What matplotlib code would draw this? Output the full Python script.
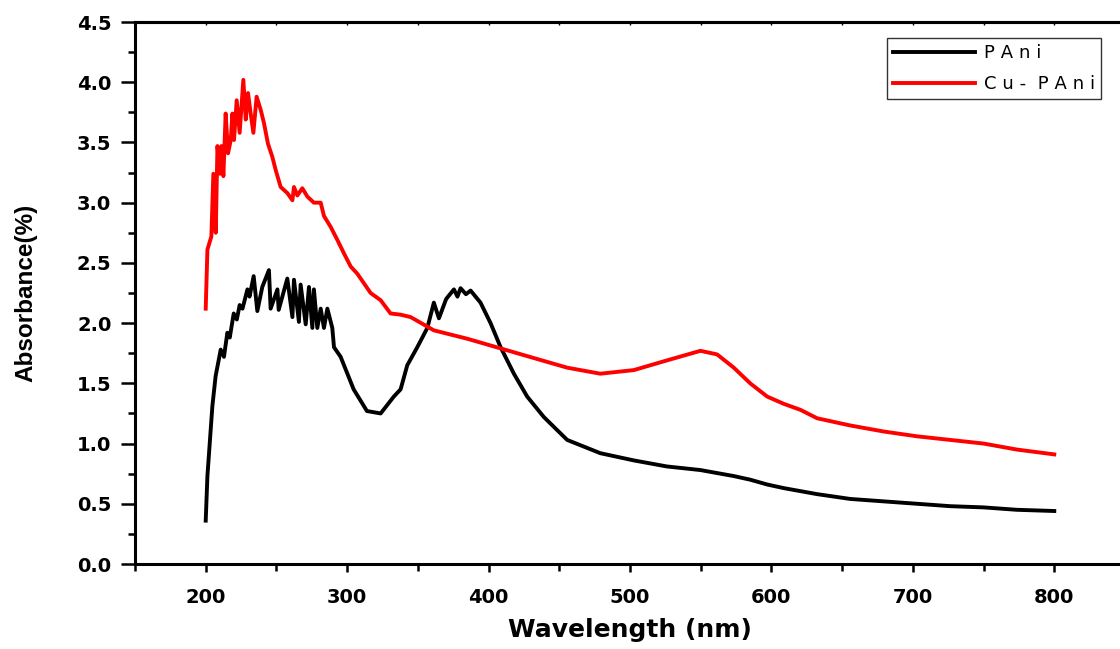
import matplotlib
matplotlib.use("Agg")
import matplotlib.pyplot as plt
from matplotlib.ticker import MultipleLocator

plt.rcParams['font.family'] = ['Liberation Sans', 'DejaVu Sans']

# PAni absorbance
pani_wl = [200, 201.2, 204.7, 207, 210.6, 212.9, 215.3, 217, 219.8, 222,
           224, 226, 229.5, 231, 233.9, 236.5, 240, 244.7, 245.9, 250.7,
           251.6, 257.7, 261.3, 262.4, 265.9, 267.1, 270.7, 273, 275.4, 276.5,
           278.9, 281.3, 283.6, 286, 289.5, 290.7, 295.4, 304.6, 314, 323.7,
           333, 337.8, 342.5, 349.6, 356.7, 361.3, 364.9, 370, 375.5, 378,
           380.2, 384, 387.3, 394.3, 401.4, 408.5, 417.9, 427.3, 439.1, 455.6,
           479, 502.7, 526, 549.8, 573.4, 585, 597, 608.7, 632.3, 655.8,
           679.4, 703, 726.5, 750, 773.6, 800]
pani_abs = [0.36, 0.73, 1.31, 1.56, 1.78, 1.72, 1.92, 1.88, 2.08, 2.03,
            2.15, 2.12, 2.28, 2.22, 2.39, 2.10, 2.30, 2.44, 2.12, 2.28,
            2.11, 2.37, 2.05, 2.36, 2.01, 2.32, 1.99, 2.30, 1.96, 2.28,
            1.96, 2.12, 1.96, 2.12, 1.96, 1.80, 1.72, 1.45, 1.27, 1.25,
            1.39, 1.45, 1.65, 1.80, 1.96, 2.17, 2.04, 2.20, 2.28, 2.22,
            2.29, 2.24, 2.27, 2.17, 2.00, 1.80, 1.58, 1.39, 1.22, 1.03,
            0.92, 0.86, 0.81, 0.78, 0.73, 0.70, 0.66, 0.63, 0.58, 0.54,
            0.52, 0.50, 0.48, 0.47, 0.45, 0.44]

# Cu-PAni absorbance
cu_wl = [200, 201.2, 204, 205.4, 207.1, 208.3, 210.1, 211.1, 212.5, 214.1,
         215.8, 217.7, 218.9, 220, 221.9, 224, 226.6, 228.3, 229.9, 231.8,
         233.7, 236, 238.9, 241.2, 244, 247.1, 249.5, 253, 257.7, 261.3,
         262.4, 264.8, 268.3, 271.9, 276.5, 281.3, 283.6, 288.3, 293.1, 297.7,
         302.5, 307.2, 311.9, 316.6, 323.7, 330.7, 337.8, 344.9, 361.3, 385,
         408.5, 432, 455.6, 479, 502.7, 526, 549.8, 561.6, 573.4, 585,
         597, 608.7, 620.5, 632.3, 655.8, 679.4, 703, 726.5, 750, 773.6,
         800]
cu_abs = [2.12, 2.61, 2.72, 3.24, 2.75, 3.47, 3.24, 3.47, 3.22, 3.74,
          3.41, 3.52, 3.74, 3.52, 3.85, 3.58, 4.02, 3.69, 3.91, 3.74,
          3.58, 3.88, 3.77, 3.66, 3.49, 3.38, 3.27, 3.13, 3.08, 3.02,
          3.13, 3.06, 3.12, 3.05, 3.00, 3.00, 2.89, 2.80, 2.69, 2.58,
          2.47, 2.41, 2.33, 2.25, 2.19, 2.08, 2.07, 2.05, 1.94, 1.87,
          1.79, 1.71, 1.63, 1.58, 1.61, 1.69, 1.77, 1.74, 1.63, 1.50,
          1.39, 1.33, 1.28, 1.21, 1.15, 1.10, 1.06, 1.03, 1.00, 0.95,
          0.91]

labels = ['PAni', 'Cu- PAni']
gap = '\u2004'

fig = plt.figure(figsize=(11.2, 6.49), dpi=100)
ax = fig.add_axes([135 / 1120, 1 - 564 / 649, 990 / 1120, 542 / 649])

ax.plot(pani_wl, pani_abs, color='black', lw=2.8, label=gap.join(labels[0]))
ax.plot(cu_wl, cu_abs, color='red', lw=2.8,
        label=gap.join(labels[1].replace(' ', '')).replace('-', '- '))

ax.set_xlim(150, 850)
ax.set_ylim(0, 4.5)
ax.xaxis.set_major_locator(MultipleLocator(100))
ax.xaxis.set_minor_locator(MultipleLocator(50))
ax.yaxis.set_major_locator(MultipleLocator(0.5))
ax.yaxis.set_minor_locator(MultipleLocator(0.25))
ax.yaxis.set_major_formatter(plt.FormatStrFormatter('%.1f'))

for s in ax.spines.values():
    s.set_linewidth(2.2)

ax.tick_params(axis='y', which='major', direction='out', length=10, width=1.8, pad=7)
ax.tick_params(axis='y', which='minor', direction='out', length=5, width=1.8)
ax.tick_params(axis='x', which='major', direction='out', length=6, width=1.8, pad=11)
ax.tick_params(axis='x', which='minor', direction='out', length=5, width=1.8)
for lbl in ax.get_xticklabels() + ax.get_yticklabels():
    lbl.set_fontfamily('DejaVu Sans')
    lbl.set_fontweight('bold')
    lbl.set_fontsize(14)

# small inward ticks on the top frame
top = ax.secondary_xaxis('top')
top.xaxis.set_major_locator(MultipleLocator(100))
top.xaxis.set_minor_locator(MultipleLocator(50))
top.tick_params(which='both', direction='in', length=2, width=1, labeltop=False)
top.spines['top'].set_linewidth(2.2)

ax.set_xlabel('Wavelength (nm)', fontsize=18, fontweight='bold',
              family='DejaVu Sans')
ax.xaxis.set_label_coords(0.5, -0.1)
ax.set_ylabel('Absorbance(%)', fontsize=17.5, fontweight='bold')
ax.yaxis.set_label_coords(-0.099, 0.5)

leg = ax.legend(loc='upper right', bbox_to_anchor=(1101 / 1120, 1 - 38 / 649),
                bbox_transform=fig.transFigure, frameon=True, fancybox=False,
                prop={'family': 'DejaVu Sans', 'size': 13},
                handlelength=4.5, borderpad=0.35, labelspacing=0.7,
                handletextpad=0.5, borderaxespad=0)
leg.get_frame().set_edgecolor('black')
leg.get_frame().set_linewidth(1.0)

fig.savefig('out.png', dpi=100)
